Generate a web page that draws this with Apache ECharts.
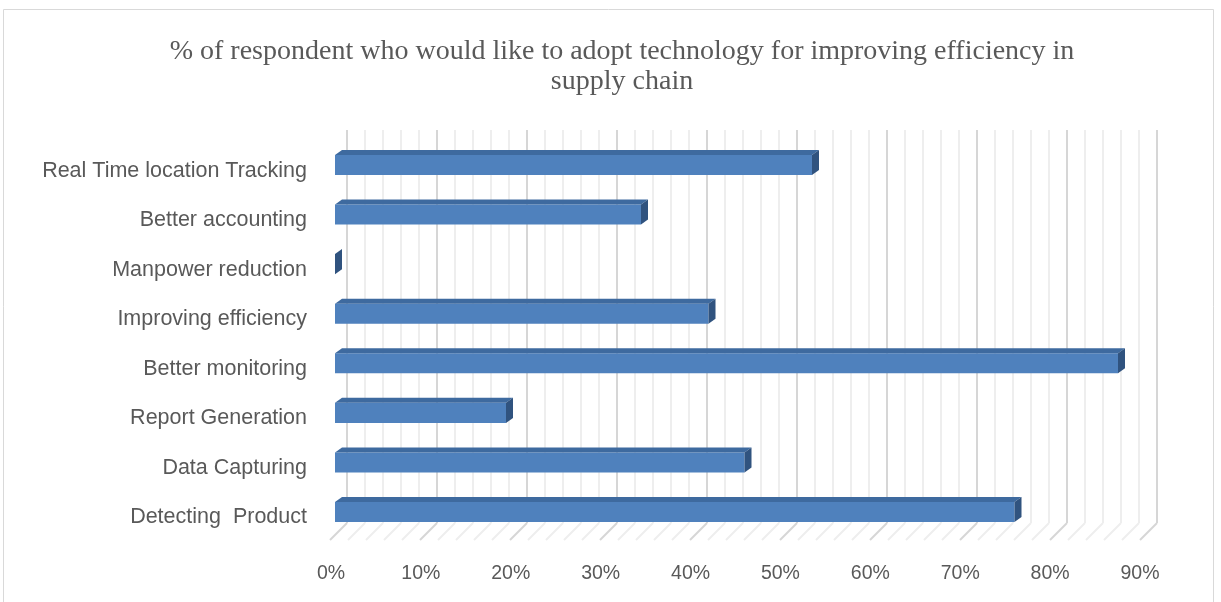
<!DOCTYPE html>
<html>
<head>
<meta charset="utf-8">
<script src="https://cdn.jsdelivr.net/npm/echarts@6/dist/echarts.min.js"></script>
<style>
html,body{margin:0;padding:0;background:#fff;}
#chart{width:1221px;height:602px;}
</style>
</head>
<body>
<div id="chart"></div>
<script>
const titleText = '% of respondent who would like to adopt technology for improving efficiency in\nsupply chain';
const categories = ['Real Time location Tracking','Better accounting','Manpower reduction','Improving efficiency','Better monitoring','Report Generation','Data Capturing','Detecting  Product'];
const values = [53, 34, 0, 41.5, 87, 19, 45.5, 75.5];
const gridTicks = [0,2,4,6,8,10,12,14,16,18,20,22,24,26,28,30,32,34,36,38,40,42,44,46,48,50,52,54,56,58,60,62,64,66,68,70,72,74,76,78,80,82,84,86,88,90];

const chart = echarts.init(document.getElementById('chart'), null, {renderer:'canvas'});

const DX = 7, DY = -5;
function barItem(params, api){
  const v = api.value(0), c = api.value(1);
  const p0 = api.coord([0, c]);
  const p1 = api.coord([v, c]);
  const h = api.size([0, 1])[1] * 0.405;
  const x0 = p0[0], x1 = p1[0], yT = p0[1] - h/2, yB = p0[1] + h/2;
  const ch = [];
  if (x1 - x0 > 0.5) {
    ch.push({type:'rect', shape:{x:x0, y:yT, width:x1-x0, height:h}, style:{fill:'#4F81BD'}});
    ch.push({type:'polygon', shape:{points:[[x0,yT],[x0+DX,yT+DY],[x1+DX,yT+DY],[x1,yT]]}, style:{fill:'#3E6A9F'}});
  }
  ch.push({type:'polygon', shape:{points:[[x1,yT],[x1+DX,yT+DY],[x1+DX,yB+DY],[x1,yB]]}, style:{fill:'#30537F'}});
  return {type:'group', children:ch};
}
function floorItem(params, api){
  const t = api.value(0);
  const p = api.coord([t, 0]);
  const major = t % 10 === 0;
  return {type:'line', shape:{x1:p[0], y1:p[1], x2:p[0]-17, y2:p[1]+17},
    style:{stroke: major ? '#d6d6d6' : '#eeeeee', lineWidth: 2}};
}

chart.setOption({
  animation:false,
  backgroundColor:'#ffffff',
  title:{
    text:titleText, left:617, top:32, textAlign:'center',
    textStyle:{fontFamily:'Liberation Serif', fontSize:28, fontWeight:'normal', color:'#595959', lineHeight:30}
  },
  graphic:[{type:'rect', shape:{x:3.5, y:9.5, width:1210, height:600}, style:{fill:'none', stroke:'#d9d9d9', lineWidth:1}, z:-1}],
  grid:[
    {left:347, right:64, top:130, bottom:79},      // back wall
    {left:331, right:81, top:146, bottom:60},      // front plane (labels)
    {left:335, right:76, top:140.2, bottom:65.2}   // bars mid-depth
  ],
  xAxis:[
    {gridIndex:0, type:'value', min:0, max:90, interval:10,
      axisLine:{show:false}, axisTick:{show:false}, axisLabel:{show:false},
      splitLine:{show:true, lineStyle:{color:'#d6d6d6', width:2}},
      minorTick:{show:false, splitNumber:5},
      minorSplitLine:{show:true, lineStyle:{color:'#eeeeee', width:2}}},
    {gridIndex:1, type:'value', min:0, max:90, interval:10,
      axisLine:{show:false}, axisTick:{show:false}, splitLine:{show:false},
      axisLabel:{formatter:'{value}%', margin:22, color:'#595959', fontSize:19.5, fontFamily:'Liberation Sans'}},
    {gridIndex:2, type:'value', min:0, max:90, interval:10, show:false}
  ],
  yAxis:[
    {gridIndex:0, type:'value', min:0, max:1, show:false},
    {gridIndex:1, type:'category', data:categories, inverse:true,
      axisLine:{show:false}, axisTick:{show:false}, splitLine:{show:false},
      axisLabel:{margin:24, color:'#595959', fontSize:21.5, fontFamily:'Liberation Sans'}},
    {gridIndex:2, type:'category', data:categories, inverse:true, show:false}
  ],
  series:[
    {type:'custom', xAxisIndex:0, yAxisIndex:0, renderItem:floorItem,
      data:gridTicks.map(t=>[t]), encode:{x:0}, silent:true, z:1},
    {type:'custom', xAxisIndex:2, yAxisIndex:2, renderItem:barItem,
      data:values.map((v,i)=>[v,i]), encode:{x:0, y:1}, z:5}
  ]
});
</script>
</body>
</html>
